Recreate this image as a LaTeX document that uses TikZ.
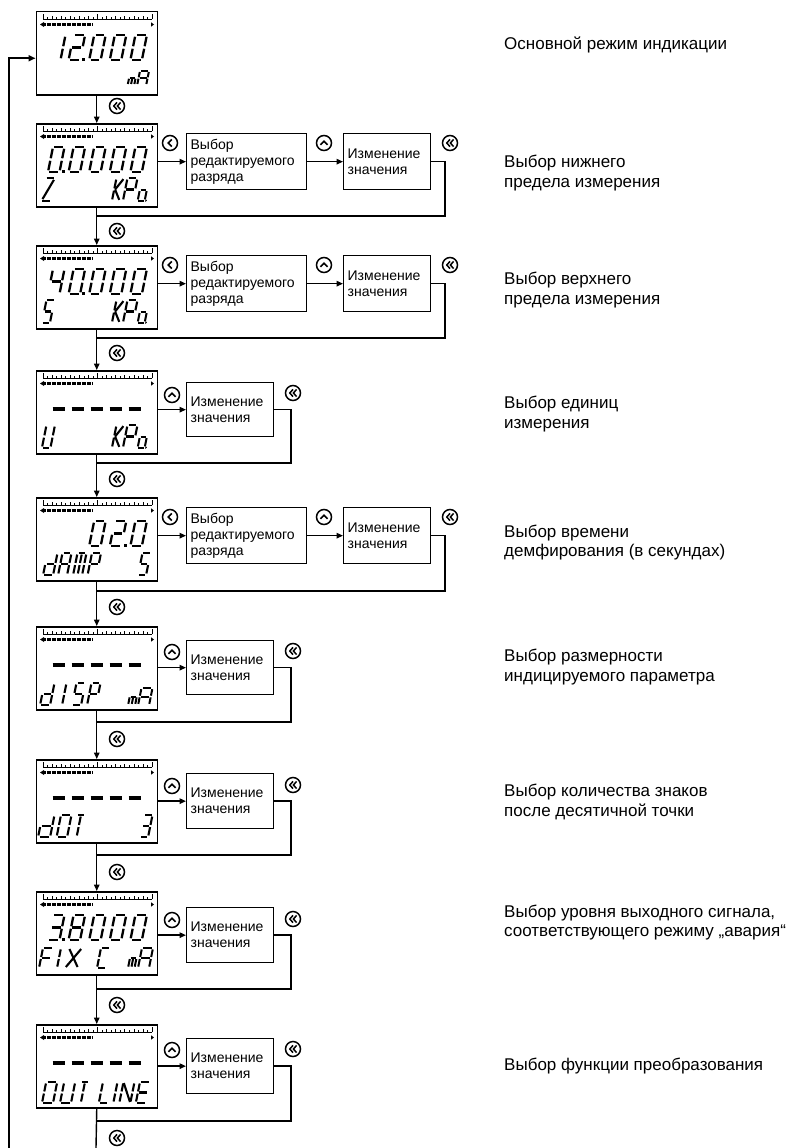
\documentclass[tikz,border=0pt]{standalone}
\usepackage{fontspec}
\setmainfont{Liberation Sans}
\usetikzlibrary{arrows.meta}

\newcommand\sgdef[2]{\expandafter\def\csname sg@#1\endcsname{\draw #2;}}
\sgdef{a}{(0.12,0)--(0.88,0)}
\sgdef{b}{(1,0.07)--(1,0.45)}
\sgdef{c}{(1,0.55)--(1,0.93)}
\sgdef{d}{(0.12,1)--(0.88,1)}
\sgdef{e}{(0,0.55)--(0,0.93)}
\sgdef{f}{(0,0.07)--(0,0.45)}
\sgdef{g}{(0.12,0.5)--(0.88,0.5)}
\sgdef{i}{(0.5,0.07)--(0.5,0.45)}
\sgdef{l}{(0.5,0.55)--(0.5,0.93)}
\sgdef{zd}{(0.88,0.08)--(0.12,0.92)}
\sgdef{ku}{(0.12,0.5)--(0.95,0.05)}
\sgdef{kd}{(0.12,0.5)--(0.95,0.95)}
\sgdef{xa}{(0.05,0.05)--(0.95,0.95)}
\sgdef{xb}{(0.95,0.05)--(0.05,0.95)}
\sgdef{at}{(1.12,0.97)--(1.25,1)}
\newcommand\glyph[6]{\begin{scope}[shift={(#1,#2)},xslant=0.2,xscale=#3,yscale=#4,line width=#5pt]\foreach \s in {#6}{\csname sg@\s\endcsname}\end{scope}}
\newcommand\dg[2]{\glyph{#1}{24}{11.5}{25}{2.3}{#2}}
\newcommand\dpt[1]{\fill (#1,47) rectangle ++(3,3);}
\newcommand\kpa{\glyph{81}{55}{7.5}{23}{2.1}{f,e,ku,kd}\glyph{92}{55}{10}{23}{2.1}{a,b,f,e,g}\glyph{106.5}{56}{7}{22}{2}{g,c,d,e,at}}
\newcommand\lcddashes{\foreach \k in {0,...,4}{\draw[line width=3.2pt] ({17+\k*19},39) -- ++(12,0);}}
\newcommand\lcd[3]{%
 \node[lcd] (#1) at (35.5,#2) {};
 \begin{scope}[shift={(35.5,#2)}]
  \draw[line width=0.7pt] (7.5,8) -- (116.5,8);
  \foreach \i in {0,...,24}{\pgfmathsetmacro\th{mod(\i,12)==0 ? 5 : (mod(\i,2)==0 ? 3.2 : 2.2)}\draw[line width=0.6pt] ({7.5+\i*4.5417},8) -- ++(0,-\th);}
  \draw[line width=3.4pt, dash pattern=on 2pt off 0.5pt] (8.5,13.5) -- (57,13.5);
  \fill (4.5,13.5) -- (8.5,11) -- (8.5,16) -- cycle;
  \fill (115.5,11.3) -- (118.5,13.5) -- (115.5,15.7) -- cycle;
  #3
 \end{scope}}

\tikzset{
  lcd/.style={draw, line width=1.5pt, minimum width=121pt, minimum height=83pt, inner sep=0pt, anchor=north west},
  box/.style={draw, line width=1.3pt, inner xsep=4pt, inner ysep=0pt, anchor=north west, align=left, font=\fontsize{14}{16}\selectfont},
  selbox/.style={box, text width=112pt, minimum height=56pt},
  valbox/.style={box, text width=79pt, minimum height=55pt},
  desc/.style={anchor=west, align=left, inner sep=0pt, font=\fontsize{17}{19.5}\selectfont},
  conn/.style={line width=1.4pt},
  arr/.style={conn, -{Triangle[length=6.5pt,width=5.5pt]}},
  fb/.style={line width=2.2pt, -{Triangle[length=7pt,width=6pt]}},
  btn/.style={circle, draw, line width=1.5pt, minimum size=15pt, inner sep=0pt},
  btnL/.style={btn, path picture={\draw[line width=1.6pt] ([shift={(1.8pt,3.6pt)}]path picture bounding box.center) -- ++(-3.6pt,-3.6pt) -- ++(3.6pt,-3.6pt);}},
  btnU/.style={btn, path picture={\draw[line width=1.6pt] ([shift={(-3.6pt,-1.8pt)}]path picture bounding box.center) -- ++(3.6pt,3.6pt) -- ++(3.6pt,-3.6pt);}},
  btnR/.style={btn, path picture={\draw[line width=1.5pt] ([shift={(0pt,3.6pt)}]path picture bounding box.center) -- ++(-3.2pt,-3.6pt) -- ++(3.2pt,-3.6pt); \draw[line width=1.5pt] ([shift={(3.6pt,3.6pt)}]path picture bounding box.center) -- ++(-3.2pt,-3.6pt) -- ++(3.2pt,-3.6pt);}},
}

\begin{document}
\begin{tikzpicture}[x=1pt,y=-1pt]
\useasboundingbox (0,0) rectangle (785,1148);

% ---------- displays ----------
\lcd{d1}{11}{
 \dg{18.5}{b,c}\dg{38.1}{a,b,g,e,d}\dpt{46.8}\dg{58.7}{a,b,c,d,e,f}\dg{79.3}{a,b,c,d,e,f}\dg{99.9}{a,b,c,d,e,f}
 \glyph{95}{60}{6.5}{14}{2}{g,e,c,l}
 \glyph{104.5}{60}{9}{14}{2}{a,b,c,e,f,g}
}
\lcd{d2}{123}{
 \dg{17.5}{a,b,c,d,e,f}\dpt{26.2}\dg{38.1}{a,b,c,d,e,f}\dg{58.7}{a,b,c,d,e,f}\dg{79.3}{a,b,c,d,e,f}\dg{99.9}{a,b,c,d,e,f}
 \glyph{10}{55}{10}{23}{2.1}{a,zd,d}
 \kpa
}
\lcd{d3}{245}{
 \dg{17.5}{f,g,b,c}\dg{38.1}{a,b,c,d,e,f}\dpt{46.8}\dg{58.7}{a,b,c,d,e,f}\dg{79.3}{a,b,c,d,e,f}\dg{99.9}{a,b,c,d,e,f}
 \glyph{11}{55}{8}{23}{2.1}{a,f,g,c,d}
 \kpa
}
\lcd{d4}{370}{
 \lcddashes
 \glyph{11}{55}{8.5}{23}{2.1}{f,e,d,c,b}
 \kpa
}
\lcd{d5}{497}{
 \dg{58.7}{a,b,c,d,e,f}\dg{79.3}{a,b,g,e,d}\dpt{88}\dg{99.9}{a,b,c,d,e,f}
 \glyph{12}{56}{10}{22}{2.1}{b,c,d,e,g}
 \glyph{27}{56}{9}{22}{2.1}{a,b,c,e,f,g}
 \glyph{42}{56}{9}{22}{2.1}{a,b,c,e,f,i,l}
 \glyph{56.5}{56}{9}{22}{2.1}{a,b,f,e,g}
 \glyph{107}{56}{8}{22}{2.1}{a,f,g,c,d}
}
\lcd{d6}{626}{
 \lcddashes
 \glyph{9}{57}{10}{22}{2.1}{b,c,d,e,g}
 \glyph{31}{57}{1}{22}{2.1}{f,e}
 \glyph{41}{57}{9}{22}{2.1}{a,f,g,c,d}
 \glyph{56}{57}{9}{22}{2.1}{a,b,f,e,g}
 \glyph{96}{62}{7}{17}{2}{g,e,c,l}
 \glyph{106}{62}{11}{17}{2}{a,b,c,e,f,g}
}
\lcd{d7}{759}{
 \lcddashes
 \glyph{7}{56}{12}{22}{2.1}{b,c,d,e,g}
 \glyph{25.5}{56}{10.5}{22}{2.1}{a,b,c,d,e,f}
 \glyph{41.5}{56}{8}{22}{2.1}{a,i,l}
 \glyph{109}{56}{8}{22}{2.1}{a,b,g,c,d}
}
\lcd{d8}{891}{
 \dg{17.5}{a,b,g,c,d}\dpt{26.2}\dg{38.1}{a,b,c,d,e,f,g}\dg{58.7}{a,b,c,d,e,f}\dg{79.3}{a,b,c,d,e,f}\dg{99.9}{a,b,c,d,e,f}
 \glyph{7.5}{57}{10}{20}{2.1}{a,f,e,g}
 \glyph{25.5}{57}{1}{20}{2.1}{f,e}
 \glyph{33.5}{57}{13}{20}{2.1}{xa,xb}
 \glyph{65.5}{57}{9}{20}{2.1}{a,f,e,d}
 \glyph{96.5}{57}{6.5}{20}{2}{g,e,c,l}
 \glyph{106.5}{57}{11}{20}{2}{a,b,c,e,f,g}
}
\lcd{d9}{1024}{
 \lcddashes
 \glyph{10.7}{58}{11}{21}{2.1}{a,b,c,d,e,f}
 \glyph{28.7}{58}{11}{21}{2.1}{b,c,d,e,f}
 \glyph{45.5}{58}{8}{21}{2.1}{a,i,l}
 \glyph{67.5}{58}{9}{21}{2.1}{f,e,d}
 \glyph{82}{58}{1}{21}{2.1}{f,e}
 \glyph{88}{58}{11}{21}{2.1}{f,e,b,c,xa}
 \glyph{104.5}{58}{10.5}{21}{2.1}{a,f,g,e,d}
}

% ---------- side boxes ----------
\node[selbox] (s2) at (186,133) {Выбор\\редактируемого\\разряда};
\node[valbox, minimum height=56pt] (v2) at (343,133) {Изменение\\значения};
\node[selbox] (s3) at (186,255) {Выбор\\редактируемого\\разряда};
\node[valbox, minimum height=56pt] (v3) at (343,255) {Изменение\\значения};
\node[valbox, minimum height=54pt] (v4) at (186,382) {Изменение\\значения};
\node[selbox] (s5) at (186,507) {Выбор\\редактируемого\\разряда};
\node[valbox, minimum height=56pt] (v5) at (343,507) {Изменение\\значения};
\node[valbox, minimum height=54pt] (v6) at (186,640) {Изменение\\значения};
\node[valbox] (v7) at (186,773) {Изменение\\значения};
\node[valbox] (v8) at (186,907) {Изменение\\значения};
\node[valbox] (v9) at (186,1038) {Изменение\\значения};

% ---------- buttons ----------
\node[btnL] (bl2) at (170,143) {};
\node[btnU] (bu2) at (324,143) {};
\node[btnR] (br2) at (450,143) {};
\node[btnL] (bl3) at (170,265) {};
\node[btnU] (bu3) at (324,265) {};
\node[btnR] (br3) at (450,265) {};
\node[btnU] (bu4) at (172,395) {};
\node[btnR] (br4) at (293,393) {};
\node[btnL] (bl5) at (170,517) {};
\node[btnU] (bu5) at (324,517) {};
\node[btnR] (br5) at (450,517) {};
\node[btnU] (bu6) at (172,652) {};
\node[btnR] (br6) at (293,651) {};
\node[btnU] (bu7) at (172,786) {};
\node[btnR] (br7) at (293,785) {};
\node[btnU] (bu8) at (172,920) {};
\node[btnR] (br8) at (293,919) {};
\node[btnU] (bu9) at (172,1050) {};
\node[btnR] (br9) at (293,1049) {};

\node[btnR] (bd1) at (117,106) {};
\node[btnR] (bd2) at (117,231) {};
\node[btnR] (bd3) at (117,353) {};
\node[btnR] (bd4) at (117,479) {};
\node[btnR] (bd5) at (117,607) {};
\node[btnR] (bd6) at (117,739) {};
\node[btnR] (bd7) at (117,872) {};
\node[btnR] (bd8) at (117,1005) {};
\node[btnR] (bd9) at (117,1138) {};

% ---------- return corners ----------
\coordinate (r2) at (445,216);
\coordinate (r3) at (445,338);
\coordinate (r4) at (291,463);
\coordinate (r5) at (445,591);
\coordinate (r6) at (291,722);
\coordinate (r7) at (291,855);
\coordinate (r8) at (291,989);
\coordinate (r9) at (291,1121);
\coordinate (endB) at (96,1148);
\coordinate (fbB) at (9,1148);

% ---------- connectors ----------
\draw[arr] (d1.south) -- (d2.north);
\draw[arr] (d2.south) -- (d3.north);
\draw[arr] (d3.south) -- (d4.north);
\draw[arr] (d4.south) -- (d5.north);
\draw[arr] (d5.south) -- (d6.north);
\draw[arr] (d6.south) -- (d7.north);
\draw[arr] (d7.south) -- (d8.north);
\draw[arr] (d8.south) -- (d9.north);
\draw[conn] (d9.south) -- (endB);

\foreach \n in {2,3,5}{
  \draw[arr] (d\n.east |- s\n.west) -- (s\n.west);
  \draw[arr] (s\n.east) -- (v\n.west);
}
\foreach \n in {4,6,7,8,9}{
  \draw[arr] (d\n.east |- v\n.west) -- (v\n.west);
}
\foreach \n in {2,...,9}{
  \draw[conn] (v\n.east) -| (r\n) -- (r\n -| d\n.south);
}
\draw[fb] (fbB) |- ([yshift=-5pt]d1.west);

% ---------- descriptions ----------
\node[desc] (t1) at (504,45) {Основной режим индикации};
\node[desc] (t2) at (504,173) {Выбор нижнего\\предела измерения};
\node[desc] (t3) at (504,290) {Выбор верхнего\\предела измерения};
\node[desc] (t4) at (504,414) {Выбор единиц\\измерения};
\node[desc] (t5) at (504,542.5) {Выбор времени\\демфирования (в секундах)};
\node[desc] (t6) at (504,667) {Выбор размерности\\индицируемого параметра};
\node[desc] (t7) at (504,802) {Выбор количества знаков\\после десятичной точки};
\node[desc] (t8) at (504,922.5) {Выбор уровня выходного сигнала,\\соответствующего режиму „авария“};
\node[desc] (t9) at (504,1066) {Выбор функции преобразования};
\end{tikzpicture}
\end{document}
